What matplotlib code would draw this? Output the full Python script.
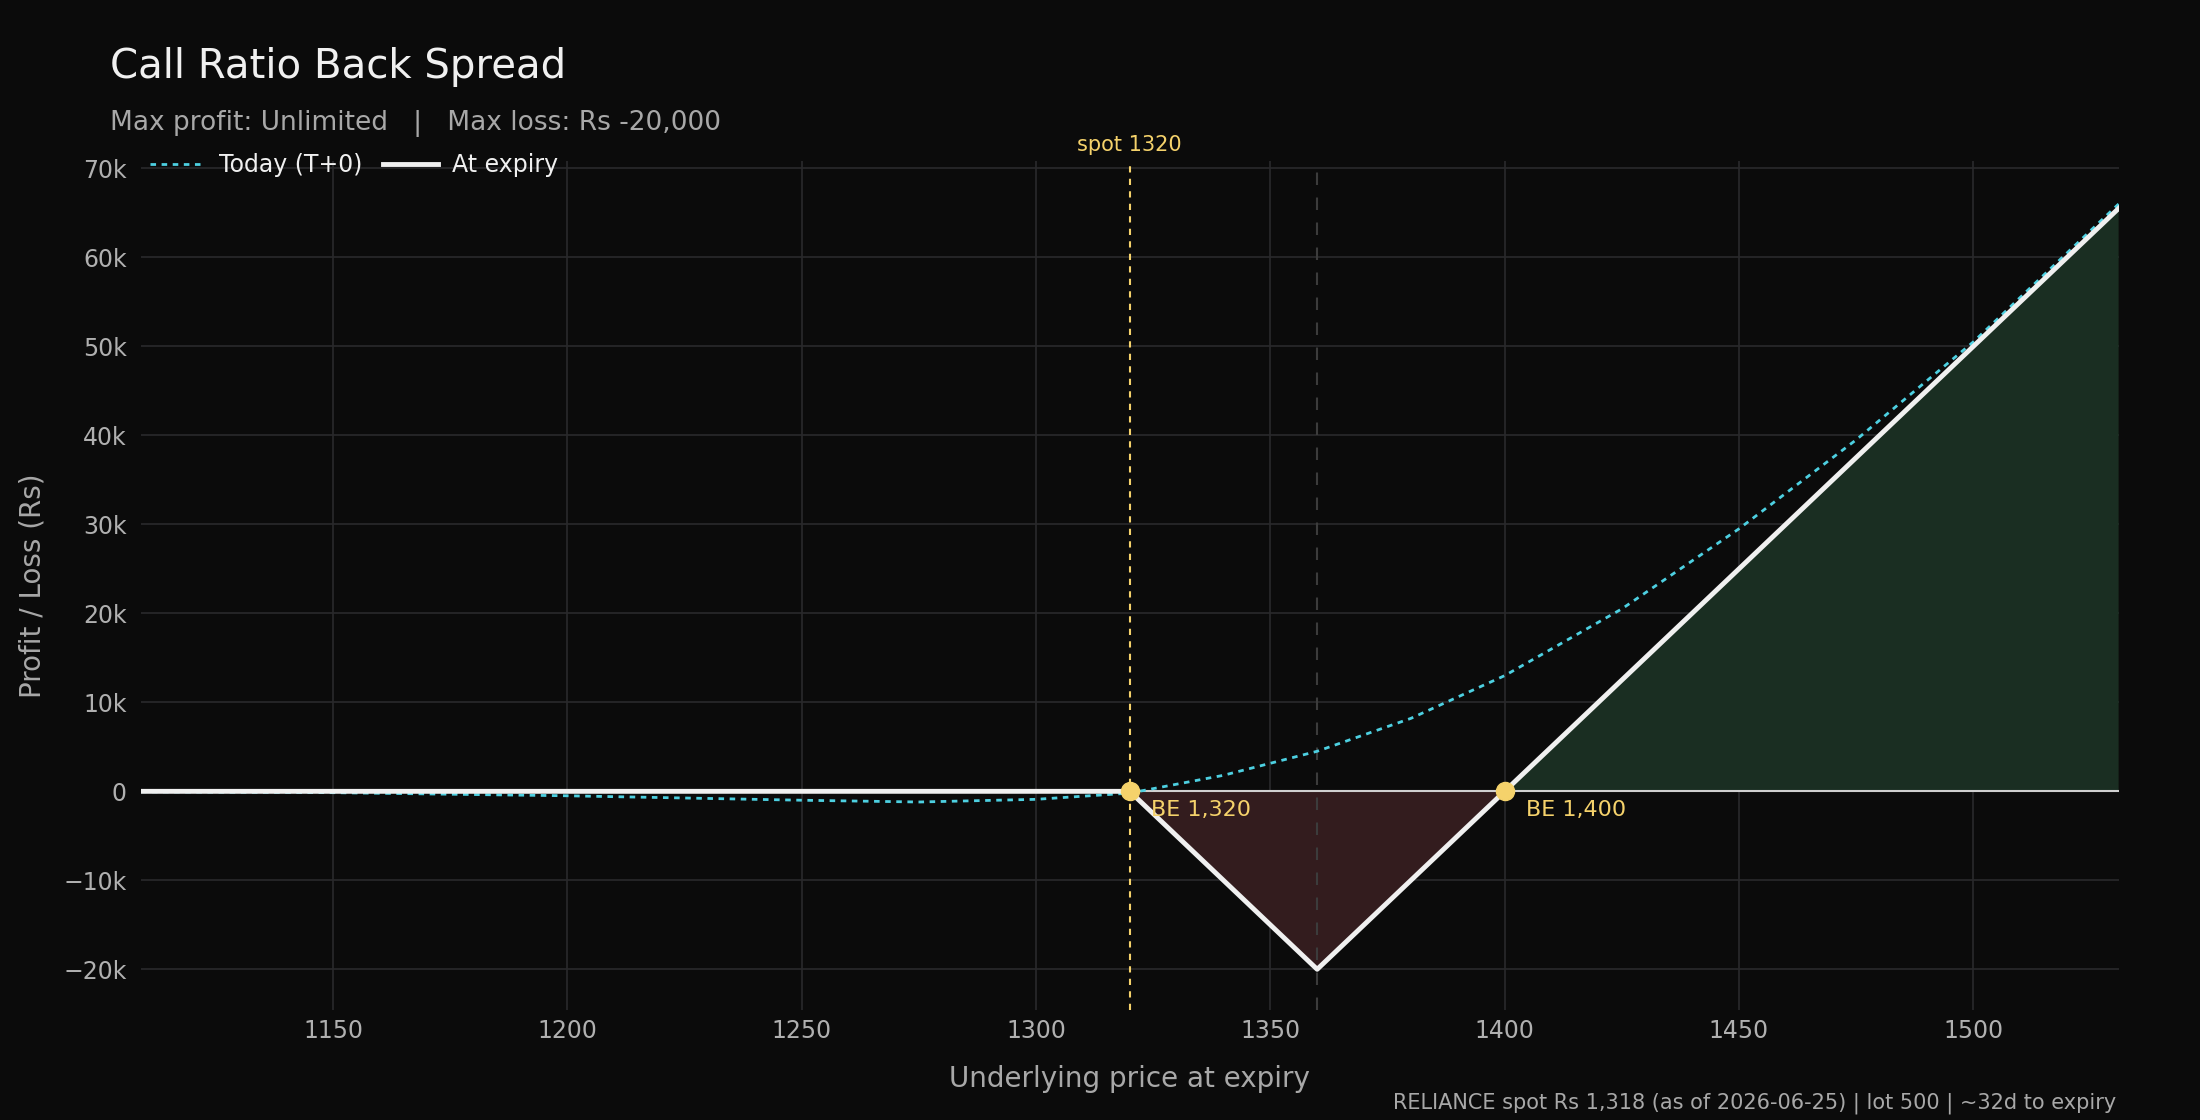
import numpy as np
import matplotlib
matplotlib.use("Agg")
from matplotlib import pyplot as plt

# expiry payoff breakpoints (price, P&L)
expiry_x = [1109, 1320, 1360, 1400, 1531]
expiry_y = [0, 0, -20000, 0, 65500]

# today's (T+0) curve
t0_x = [1109, 1150, 1200, 1250, 1275, 1300, 1320, 1340, 1360, 1380, 1400,
        1425, 1450, 1475, 1500, 1531]
t0_y = [-50, -150, -500, -1000, -1200, -900, -200, 1800, 4500, 8200, 13000,
        20500, 29500, 39500, 50500, 66000]

breakevens = [1320, 1400]
spot = 1320
short_strike = 1360

bg = '#0b0b0b'
fig = plt.figure(figsize=(22, 11.2), dpi=100, facecolor=bg)
ax = fig.add_axes([0.064, 0.098, 0.899, 0.758], facecolor=bg)

xs = np.linspace(1109, 1531, 2000)
ys = np.interp(xs, expiry_x, expiry_y)
ax.fill_between(xs, 0, ys, where=ys >= 0, color='#1a2e22', interpolate=True, lw=0)
ax.fill_between(xs, 0, ys, where=ys <= 0, color='#331c1e', interpolate=True, lw=0)

ax.axhline(0, color='#d0d0d0', lw=1.5, zorder=2)
ax.axvline(short_strike, color='#3c3c3c', lw=1.5, ls=(0, (6, 6)), zorder=1)
ax.axvline(spot, color='#f5d26b', lw=1.5, ls=(0, (3, 3)), zorder=3)
ax.text(spot, 71500, 'spot 1320', color='#f5d26b', fontsize=15,
        ha='center', va='bottom')

ax.plot(t0_x, t0_y, color='#4dd0e1', lw=2, ls=(0, (2, 2)), label='Today (T+0)', zorder=4)
ax.plot(expiry_x, expiry_y, color='#f0f0f0', lw=3.5, label='At expiry', zorder=5)

for b in breakevens:
    ax.plot(b, 0, 'o', ms=13, color='#f5d26b', zorder=6)
    ax.text(b + 4.5, -1000, 'BE {:,}'.format(b), color='#f5d26b', fontsize=16,
            va='top', ha='left', zorder=6)

ax.set_xlim(1109, 1531)
ax.set_ylim(-24600, 70800)
ax.set_xticks([1150, 1200, 1250, 1300, 1350, 1400, 1450, 1500])
yt = list(range(-20000, 70001, 10000))
ax.set_yticks(yt)
ax.set_yticklabels([('\u2212' if v < 0 else '') + ('%dk' % (abs(v) // 1000) if v else '0') for v in yt])
ax.grid(True, color='#2a2a2c', lw=1.2)
ax.set_axisbelow(True)
for s in ax.spines.values():
    s.set_visible(False)
ax.tick_params(colors='#b0b0b0', labelsize=17, length=0, pad=10)
ax.tick_params(axis='x', pad=6)

ax.set_xlabel('Underlying price at expiry', color='#a8a8a8', fontsize=20, labelpad=16)
ax.set_ylabel('Profit / Loss (Rs)', color='#a8a8a8', fontsize=20, labelpad=12)

leg = ax.legend(loc='upper left', bbox_to_anchor=(-0.006, 1.035), ncol=2, frameon=False,
                fontsize=17, labelcolor='#f0f0f0', handlelength=2.3, handletextpad=0.6,
                columnspacing=0.9)

fig.text(0.05, 0.94, 'Call Ratio Back Spread', color='#f0f0f0', fontsize=29, va='center')
fig.text(0.05, 0.89, 'Max profit: Unlimited   |   Max loss: Rs -20,000', color='#a8a8a8',
         fontsize=19, va='center')
fig.text(0.962, 0.005, 'RELIANCE spot Rs 1,318 (as of 2026-06-25) | lot 500 | ~32d to expiry',
         color='#a8a8a8', fontsize=15, ha='right', va='bottom')

fig.savefig('out.png', facecolor=bg)
